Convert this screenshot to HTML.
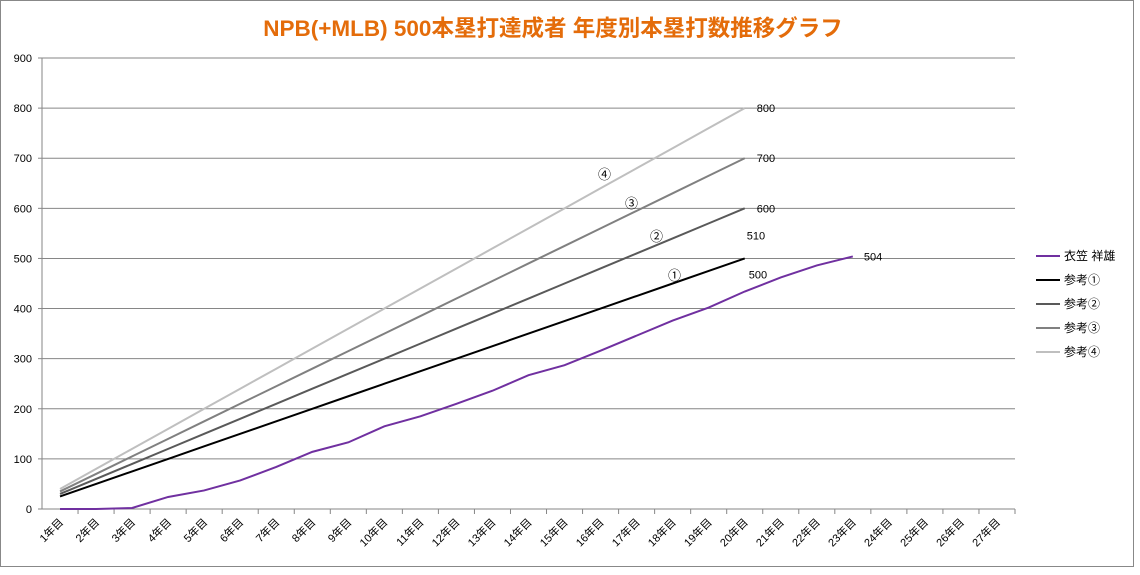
<!DOCTYPE html>
<html><head><meta charset="utf-8"><style>
body{margin:0;background:#fff;}
svg text{font-family:"Liberation Sans","Noto Sans CJK JP",sans-serif;}
</style></head><body>
<svg id="c" width="1140" height="570" xmlns="http://www.w3.org/2000/svg">
<rect x="0.5" y="0.5" width="1133" height="566" fill="#fff" stroke="#888"/>
<text x="553" y="36" text-anchor="middle" font-size="22.5" font-weight="bold" fill="#E46C0A">NPB(+MLB) 500本塁打達成者 年度別本塁打数推移グラフ</text>
<g id="grid"></g><g id="series"></g><g id="labels"></g><g id="legend"></g>
</svg>
<script>
const categories=[];for(let i=1;i<=27;i++)categories.push(i+'年目');
const yTicks=[0,100,200,300,400,500,600,700,800,900];
const kinugasa=[0,0,2,24,37,57,84,114,133,165,185,210,236,267,287,316,346,376,402,434,462,486,504];
const ref1=[25,50,75,100,125,150,175,200,225,250,275,300,325,350,375,400,425,450,475,500];
const ref2=[30,60,90,120,150,180,210,240,270,300,330,360,390,420,450,480,510,540,570,600];
const ref3=[35,70,105,140,175,210,245,280,315,350,385,420,455,490,525,560,595,630,665,700];
const ref4=[40,80,120,160,200,240,280,320,360,400,440,480,520,560,600,640,680,720,760,800];
const seriesNames=['衣笠 祥雄','参考①','参考②','参考③','参考④'];
const seriesColors=['#7030A0','#000000','#595959','#808080','#BFBFBF'];
const seriesData=[kinugasa,ref1,ref2,ref3,ref4];
const endLabels=['504','500','600','700','800'];
const markers=['①','②','③','④'];
const X0=42,X1=1015,Y0=509,Y1=58;
const bw=(X1-X0)/categories.length;
const xs=i=>X0+bw*(i+0.5);
const ys=v=>Y0-(v/900)*(Y0-Y1);
const NS='http://www.w3.org/2000/svg';
function mk(t,a,p){const e=document.createElementNS(NS,t);for(const k in a)e.setAttribute(k,a[k]);p.appendChild(e);return e;}
const g=document.getElementById('grid');
yTicks.forEach(v=>{
 const l=mk('line',{x1:X0,x2:X1,y1:ys(v),y2:ys(v),stroke:'#868686','stroke-width':1},g);
 
 
 const t=mk('text',{x:X0-10,y:ys(v)+4,'text-anchor':'end','font-size':11,fill:'#000'},g);t.textContent=v;
 
 
 mk('line',{x1:X0-4,x2:X0,y1:ys(v),y2:ys(v),stroke:'#868686'},g);
});
mk('line',{x1:X0,x2:X0,y1:Y1,y2:Y0,stroke:'#868686'},g);
categories.forEach((c,i)=>{
 mk('line',{x1:X0+bw*(i+1),x2:X0+bw*(i+1),y1:Y0,y2:Y0+5,stroke:'#868686'},g);
 const x=xs(i)+4,y=Y0+14;
 const t=mk('text',{x:x,y:y,'text-anchor':'end','font-size':11,transform:`rotate(-45 ${x} ${y})`},g);t.textContent=c;
 
 
});
const s=document.getElementById('series');
seriesData.forEach((d,k)=>{
 const p=mk('polyline',{points:d.map((v,i)=>xs(i)+','+ys(v)).join(' '),fill:'none',stroke:seriesColors[k],'stroke-width':2},s);
 
 
});
const L=document.getElementById('labels');
function lab(txt,x,y,name,fs){const t=mk('text',{x:x,y:y,'font-size':fs||11},L);t.textContent=txt;
 
 }
lab(endLabels[0],xs(kinugasa.length-1)+11,ys(504)+4,'label-504');
lab(endLabels[1],xs(19)+4,ys(500)+20,'label-500');
lab('510',xs(19)+2,ys(510)-14,'label-510');
lab(endLabels[2],xs(19)+12,ys(600)+4,'label-600');
lab(endLabels[3],xs(19)+12,ys(700)+4,'label-700');
lab(endLabels[4],xs(19)+12,ys(800)+4,'label-800');
lab(markers[0],668,280,'marker-1',13);
lab(markers[1],650,241,'marker-2',13);
lab(markers[2],625,208,'marker-3',13);
lab(markers[3],598,179,'marker-4',13);
const lg=document.getElementById('legend');
seriesNames.forEach((n,k)=>{
 const y=256+k*24;
 const l=mk('line',{x1:1036,x2:1060,y1:y,y2:y,stroke:seriesColors[k],'stroke-width':2},lg);
 
 
 const t=mk('text',{x:1064,y:y+4,'font-size':12},lg);t.textContent=n;
 
 
});
</script>
</body></html>
